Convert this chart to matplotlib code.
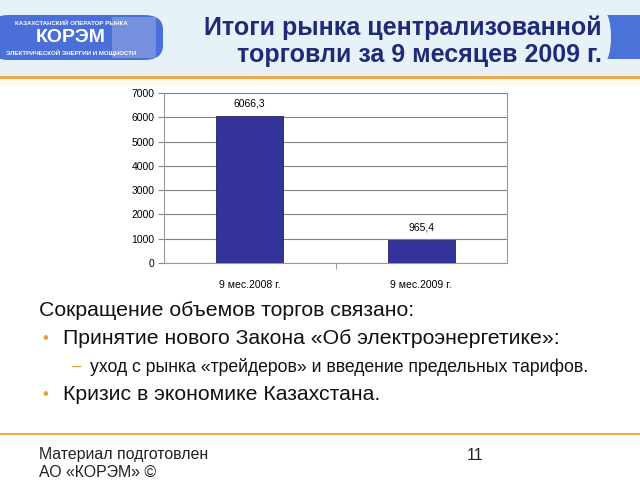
import matplotlib
matplotlib.use("Agg")
import matplotlib.pyplot as plt
from matplotlib.patches import FancyBboxPatch, Rectangle, Ellipse
import numpy as np

categories = ["9 мес.2008 г.", "9 мес.2009 г."]
values = [6066.3, 965.4]
yticks = [0, 1000, 2000, 3000, 4000, 5000, 6000, 7000]

title_lines = ["Итоги рынка централизованной", "торговли за 9 месяцев 2009 г."]
body_head = "Сокращение объемов торгов связано:"
bullet_1 = "Принятие нового Закона «Об электроэнергетике»:"
sub_1 = "уход с рынка «трейдеров» и введение предельных тарифов."
bullet_2 = "Кризис в экономике Казахстана."
footer_lines = ["Материал подготовлен", "АО «КОРЭМ» ©"]
page_no = "11"

W, H = 640, 480
plt.rcParams["font.family"] = ["Liberation Sans", "DejaVu Sans"]


def px(x, y):
    return x / W, 1 - y / H


fig = plt.figure(figsize=(6.4, 4.8), dpi=100)
fig.patch.set_facecolor("white")

# header band
fig.patches.append(Rectangle(px(0, 76), 1, 76 / H, transform=fig.transFigure,
                             facecolor="#e6f2f7", edgecolor="none", zorder=-2))
fig.patches.append(Rectangle(px(0, 79), 1, 3 / H, transform=fig.transFigure,
                             facecolor="#f0a848", edgecolor="none", zorder=-1))
fig.patches.append(Rectangle(px(0, 86), 1, 7 / H, transform=fig.transFigure,
                             facecolor="#fffbea", edgecolor="none", zorder=-2))

# logo
fig.patches.append(FancyBboxPatch(px(-10, 60), 173 / W, 45 / H,
                                  boxstyle="round,pad=0,rounding_size=0.03",
                                  transform=fig.transFigure,
                                  facecolor="#4a6fd8", edgecolor="none", zorder=1))
fig.patches.append(Rectangle(px(112, 58), 44 / W, 41 / H, transform=fig.transFigure,
                             facecolor="#9aaee0", edgecolor="none", alpha=0.55, zorder=1))
fig.text(*px(71, 23), "КАЗАХСТАНСКИЙ ОПЕРАТОР РЫНКА", color="white", fontsize=4.4,
         fontweight="bold", ha="center", va="center", zorder=3)
fig.text(*px(71, 38), "КОРЭМ", color="white", fontsize=14, fontweight="bold",
         ha="center", va="center", zorder=3)
fig.text(*px(71, 53), "ЭЛЕКТРИЧЕСКОЙ ЭНЕРГИИ И МОЩНОСТИ", color="white", fontsize=4.4,
         fontweight="bold", ha="center", va="center", zorder=3)

# right tab
fig.patches.append(Rectangle(px(607, 59), 40 / W, 44 / H, transform=fig.transFigure,
                             facecolor="#4a72d8", edgecolor="none", zorder=1))
fig.patches.append(Ellipse(px(604, 37), 14 / W, 50 / H, transform=fig.transFigure,
                           facecolor="#e6f2f7", edgecolor="none", zorder=2))

# title
for i, line in enumerate(title_lines):
    fig.text(*px(602, 28 + 27 * i), line, color="#1f2a78", fontsize=18,
             fontweight="bold", ha="right", va="center", zorder=3)

# chart
ax = fig.add_axes([164 / W, 1 - 263 / H, (507 - 164) / W, (263 - 93) / H])
x = np.arange(len(categories))
ax.bar(x, values, width=0.39, color="#333399", edgecolor="#222266", linewidth=0.6,
       zorder=3)
for xi, v in zip(x, values):
    ax.text(xi, v + 300, f"{v:.1f}".replace(".", ","), ha="center", va="bottom",
            fontsize=7.5, color="black")
ax.set_xlim(-0.5, len(categories) - 0.5)
ax.set_ylim(0, 7000)
ax.set_yticks(yticks)
ax.set_yticklabels([str(t) for t in yticks], fontsize=7.5)
ax.set_xticks(x)
ax.set_xticklabels(categories, fontsize=7.5)
ax.tick_params(axis="x", length=0, pad=12)
ax.tick_params(axis="y", length=4, color="#888888", pad=3)
ax.set_xticks([0.5], minor=True)
ax.tick_params(axis="x", which="minor", length=4, color="#888888")
ax.yaxis.grid(True, color="#808080", linewidth=0.8, zorder=0)
for s in ["left", "right", "bottom"]:
    ax.spines[s].set_color("#999999")
ax.spines["top"].set_visible(False)
ax.set_facecolor("white")

# body text
fig.text(*px(39, 310), body_head, fontsize=15.3, color="#111111", va="center")
fig.text(*px(42, 339), "•", fontsize=12, color="#e8a040", va="center")
fig.text(*px(63, 339), bullet_1, fontsize=15.3, color="#111111", va="center")
fig.text(*px(72, 367), "–", fontsize=12, color="#e8a040", va="center")
fig.text(*px(90, 367), sub_1, fontsize=12.7, color="#111111", va="center")
fig.text(*px(42, 395), "•", fontsize=12, color="#e8a040", va="center")
fig.text(*px(63, 395), bullet_2, fontsize=15.3, color="#111111", va="center")

# footer
fig.patches.append(Rectangle(px(0, 435), 1, 2 / H, transform=fig.transFigure,
                             facecolor="#f0a848", edgecolor="none", zorder=1))
fig.text(*px(39, 455), footer_lines[0], fontsize=11.4, color="#222222", va="center")
fig.text(*px(39, 472), footer_lines[1], fontsize=11.4, color="#222222", va="center")
fig.text(*px(467, 455), page_no, fontsize=11.4, color="#222222", va="center")

fig.savefig("out.png", dpi=100)
